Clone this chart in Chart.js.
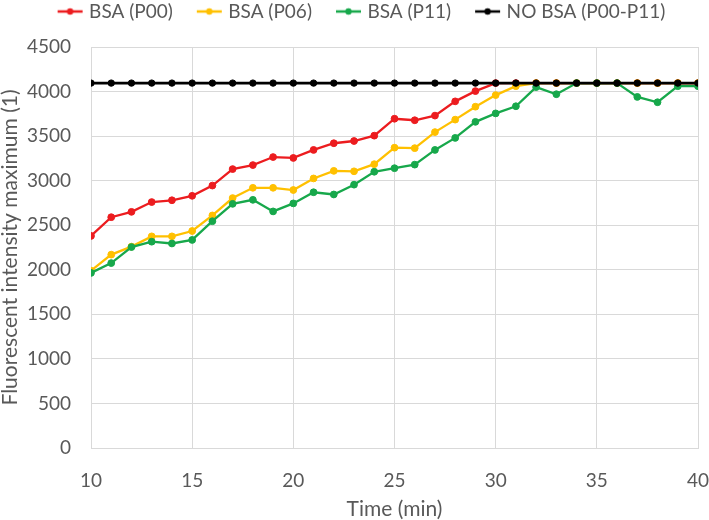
<!DOCTYPE html>
<html>
<head>
<meta charset="utf-8">
<script src="https://cdn.jsdelivr.net/npm/chart.js@4.4.1/dist/chart.umd.min.js"></script>
<style>
  html, body { margin: 0; padding: 0; background: #fff; }
  #wrap { width: 709px; height: 520px; }
</style>
</head>
<body>
<div id="wrap"><canvas id="chart"></canvas></div>
<script>
const times = [10, 11, 12, 13, 14, 15, 16, 17, 18, 19, 20, 21, 22, 23, 24, 25,
    26, 27, 28, 29, 30, 31, 32, 33, 34, 35, 36, 37, 38, 39, 40];
const bsaP00 = [2380, 2590, 2650, 2760, 2780, 2830, 2945, 3130, 3175, 3265, 3255, 3345, 3420, 3445, 3505, 3695,
    3678, 3730, 3890, 4005, 4095, 4095, 4095, 4095, 4095, 4095, 4095, 4095, 4095, 4095, 4095];
const bsaP06 = [1990, 2170, 2260, 2375, 2375, 2435, 2610, 2805, 2920, 2920, 2895, 3025, 3110, 3105, 3185, 3370,
    3365, 3545, 3685, 3830, 3960, 4060, 4095, 4095, 4095, 4095, 4095, 4095, 4095, 4095, 4095];
const bsaP11 = [1965, 2075, 2255, 2315, 2295, 2335, 2545, 2740, 2785, 2655, 2745, 2870, 2845, 2955, 3100, 3140,
    3180, 3345, 3480, 3660, 3755, 3835, 4050, 3970, 4095, 4095, 4095, 3940, 3880, 4060, 4060];
const noBsa = [4095, 4095, 4095, 4095, 4095, 4095, 4095, 4095, 4095, 4095, 4095, 4095, 4095, 4095, 4095, 4095,
    4095, 4095, 4095, 4095, 4095, 4095, 4095, 4095, 4095, 4095, 4095, 4095, 4095, 4095, 4095];
const seriesNames = ['BSA (P00)', 'BSA (P06)', 'BSA (P11)', 'NO BSA (P00-P11)'];
const seriesColors = ['#ec1c1f', '#ffc000', '#17a84b', '#000000'];

const FONT = "Lato, 'Liberation Sans', sans-serif";
const TEXT = '#595959';

// legend marker: short line with a dot, like Excel.
// the image is wider than the legend box so the line sits close to the text
function legendMarker(color) {
    const c = document.createElement('canvas');
    c.width = 50; c.height = 10;
    const g = c.getContext('2d');
    g.strokeStyle = color;
    g.lineWidth = 2.5;
    g.beginPath(); g.moveTo(21, 5); g.lineTo(46, 5); g.stroke();
    g.fillStyle = color;
    g.beginPath(); g.arc(33.5, 5, 3.2, 0, Math.PI * 2); g.fill();
    return c;
}

function toPoints(vals) {
    return vals.map((v, i) => ({ x: times[i], y: v }));
}

const allSeries = [bsaP00, bsaP06, bsaP11, noBsa];
const datasets = allSeries.map((vals, i) => ({
    label: seriesNames[i],
    data: toPoints(vals),
    borderColor: seriesColors[i],
    backgroundColor: seriesColors[i],
    pointBackgroundColor: seriesColors[i],
    pointBorderColor: seriesColors[i],
    pointRadius: i === 3 ? 3.2 : 3.4,
    pointBorderWidth: 1,
    borderWidth: i === 3 ? 2.6 : 2.3,
    tension: 0,
    order: 3 - i
}));

const markers = seriesColors.map(legendMarker);

// some room between legend and plot
const legendGap = {
    id: 'legendGap',
    beforeInit(chart) {
        const fit = chart.legend.fit;
        chart.legend.fit = function () {
            fit.call(this);
            this.height += 16;
        };
    }
};

new Chart(document.getElementById('chart').getContext('2d'), {
    type: 'line',
    data: { datasets },
    plugins: [legendGap],
    options: {
        responsive: true,
        maintainAspectRatio: false,
        animation: false,
        layout: { padding: { left: 0, right: 0, top: -8, bottom: 0 } },
        plugins: {
            tooltip: { enabled: false },
            legend: {
                position: 'top',
                labels: {
                    usePointStyle: true,
                    pointStyleWidth: 36,
                    boxHeight: 10,
                    padding: 10,
                    color: TEXT,
                    font: { family: FONT, size: 19 },
                    generateLabels: (chart) => chart.data.datasets.map((ds, i) => ({
                        text: ds.label,
                        fillStyle: seriesColors[i],
                        strokeStyle: seriesColors[i],
                        pointStyle: markers[i],
                        lineWidth: 0,
                        hidden: false,
                        datasetIndex: i,
                        fontColor: TEXT
                    })),
                    sort: (a, b) => a.datasetIndex - b.datasetIndex
                }
            }
        },
        scales: {
            x: {
                type: 'linear',
                min: 10,
                max: 40,
                ticks: { stepSize: 5, color: TEXT, font: { family: FONT, size: 19 }, padding: 21 },
                grid: { color: '#d9d9d9', drawTicks: false },
                border: { color: '#d9d9d9' },
                title: { display: true, text: 'Time (min)', color: TEXT,
                    font: { family: FONT, size: 21, lineHeight: 1 }, padding: { top: 0, bottom: 0 } },
                afterFit: (axis) => {
                    axis.height = 72;
                    axis.paddingRight = 11;
                    axis.paddingLeft = 0;
                }
            },
            y: {
                min: 0,
                max: 4500,
                ticks: { stepSize: 500, color: TEXT, font: { family: FONT, size: 19 }, padding: 20,
                    callback: (v) => String(v) },
                grid: { color: '#d9d9d9', drawTicks: false },
                border: { display: false },
                title: { display: true, text: 'Fluorescent intensity maximum (1)', color: TEXT,
                    font: { family: FONT, size: 21, lineHeight: 1 }, padding: { top: 0, bottom: 0 } },
                afterFit: (axis) => {
                    axis.width = 91;
                }
            }
        }
    }
});
</script>
</body>
</html>
